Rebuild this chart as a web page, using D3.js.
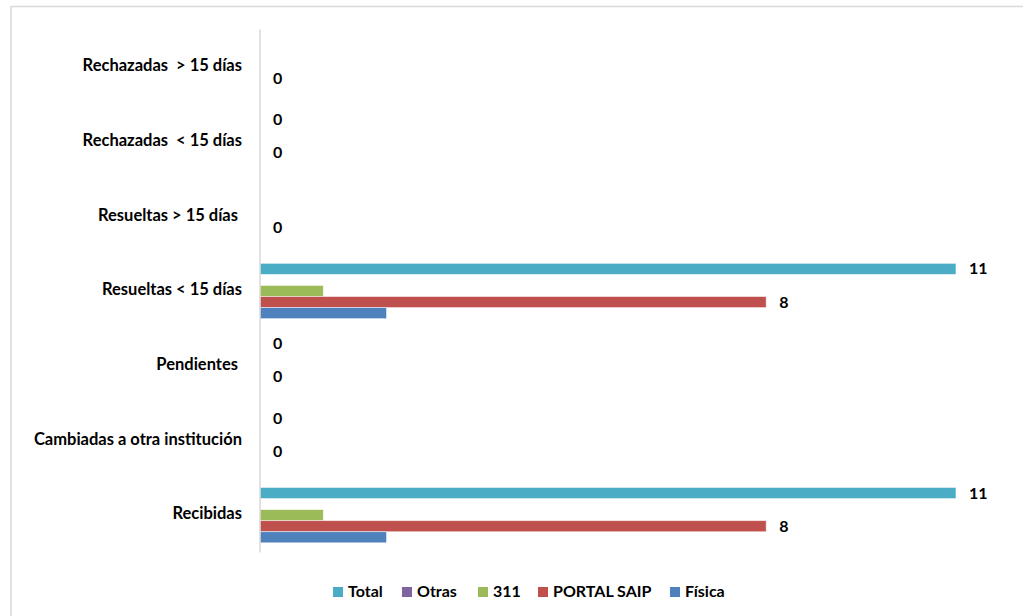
<!DOCTYPE html>
<html>
<head>
<meta charset="utf-8">
<script src="https://cdn.jsdelivr.net/npm/d3@7"></script>
<style>
  body { margin: 0; background: #fff; }
  text { font-family: Lato, "Open Sans", sans-serif; font-weight: bold; white-space: pre; }
</style>
</head>
<body>
<svg id="chart" width="1023" height="616"></svg>
<script>
// categories, top to bottom
const categories = ["Rechazadas  > 15 días", "Rechazadas  < 15 días", "Resueltas > 15 días ",
    "Resueltas < 15 días", "Pendientes ", "Cambiadas a otra institución", "Recibidas"];
// series, top to bottom inside each group (same order as legend)
const seriesNames = ["Total", "Otras", "311", "PORTAL SAIP", "Física"];
const seriesColors = ["#4BACC6", "#8064A2", "#9BBB59", "#C0504D", "#4F81BD"];

const total      = [null, 0, null, 11, 0, 0, 11];
const otras      = [null, null, null, null, null, null, null];
const tres11     = [null, null, null, 1, null, null, 1];
const portalSaip = [0, 0, 0, 8, 0, 0, 8];
const fisica     = [null, null, null, 2, null, null, 2];
const seriesValues = [total, otras, tres11, portalSaip, fisica];
// only these series show data labels
const labelledSeries = ["Total", "PORTAL SAIP"];

const xTicks = [0, 12];

const drawChart = function (svg) {
    let margin = {top: 29.5, bottom: 63.5, left: 260}

    // outer chart frame
    svg.append("rect")
        .attr("x", 11).attr("y", 6.5)
        .attr("width", 1030).attr("height", 630)
        .style("fill", "none")
        .style("stroke", "#d9d9d9")
        .style("stroke-width", 1.5)

    let xScale = d3.scaleLinear()
        .domain(d3.extent(xTicks))
        .range([margin.left, margin.left + 63.27 * 12]);
    let yScale = d3.scaleBand()
        .domain(categories)
        .range([margin.top, 616 - margin.bottom])
        .paddingInner(0.26)
        .paddingOuter(0.13);
    let seriesScale = d3.scaleBand()
        .domain(seriesNames)
        .range([0, yScale.bandwidth()]);

    categories.forEach((c, i) => {
        seriesNames.forEach((s, j) => {
            let v = seriesValues[j][i];
            if (v === null) return;
            let y = yScale(c) + seriesScale(s);
            if (v > 0) {
                svg.append("rect")
                    .attr("x", xScale(0))
                    .attr("y", y)
                    .attr("width", xScale(v) - xScale(0))
                    .attr("height", seriesScale.bandwidth())
                    .style("fill", seriesColors[j])
                    .style("stroke", "#ffffff")
                    .style("stroke-opacity", 0.6)
                    .style("stroke-width", 0.8);
            }
            if (labelledSeries.includes(s)) {
                svg.append("text")
                    .attr("x", xScale(v) + 13)
                    .attr("y", y + seriesScale.bandwidth() / 2 + 1.5)
                    .attr("dominant-baseline", "middle")
                    .style("font-size", "16px")
                    .style("fill", "#000")
                    .text(v);
            }
        })

        svg.append("text")
            .attr("x", margin.left - 18)
            .attr("y", yScale(c) + yScale.bandwidth() / 2)
            .attr("text-anchor", "end")
            .attr("dominant-baseline", "middle")
            .style("font-size", "16.5px")
            .style("fill", "#000")
            .text(c);
    })

    // vertical category axis
    let leftAxis = d3.axisLeft(yScale).tickSize(0).tickFormat("");
    svg.append("g")
        .attr("transform", `translate(${xScale(0)}, 0)`)
        .call(leftAxis)
        .call(g => g.select(".domain")
            .attr("d", `M0,${margin.top}V${616 - margin.bottom}`)
            .style("stroke", "#d9d9d9")
            .style("stroke-width", 1.5));

    // legend
    let legendX = [333, 402, 478, 538, 670];
    seriesNames.forEach((s, j) => {
        svg.append("rect")
            .attr("x", legendX[j]).attr("y", 587)
            .attr("width", 10).attr("height", 10)
            .style("fill", seriesColors[j]);
        svg.append("text")
            .attr("x", legendX[j] + 15)
            .attr("y", 592.5)
            .attr("dominant-baseline", "middle")
            .style("font-size", "16px")
            .style("fill", "#000")
            .text(s);
    })
}

drawChart(d3.select("svg#chart"));
</script>
</body>
</html>
